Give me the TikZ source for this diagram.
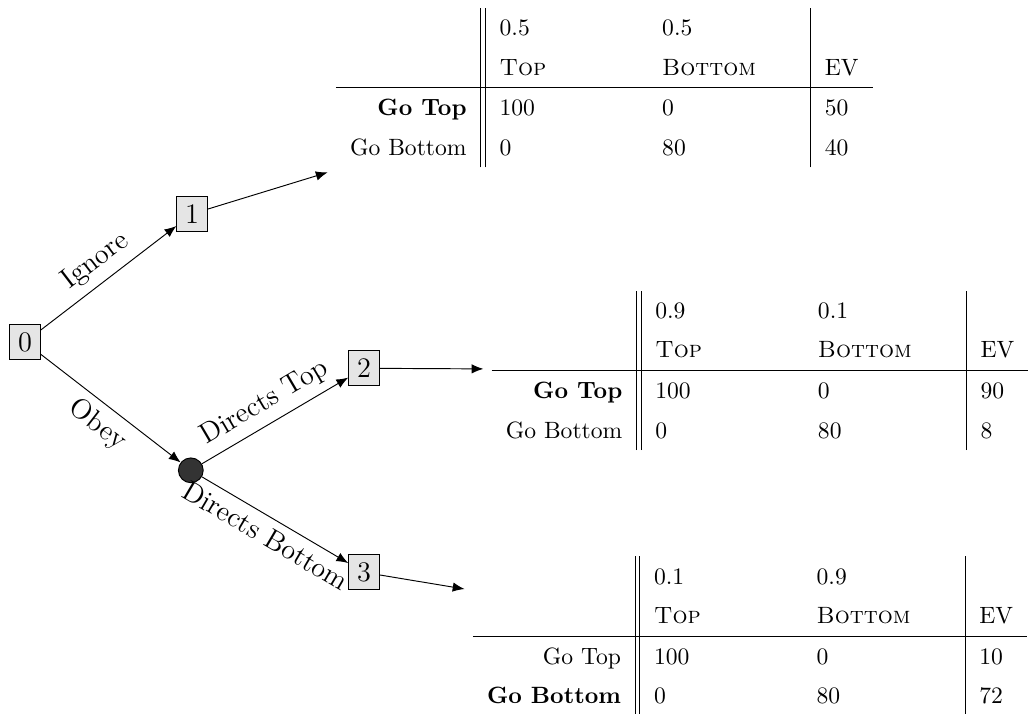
\documentclass[tikz,border=0pt]{standalone}
\usepackage{tikz}
\usetikzlibrary{arrows.meta}
\renewcommand{\arraystretch}{1.4}
\tikzset{
  decision/.style={draw, fill=gray!20, font=\large, minimum width=13pt, minimum height=14.8pt, inner sep=1.5pt},
  chance/.style={circle, draw, fill=black!80, minimum size=10.5pt, inner sep=0pt},
  branch/.style={-{Latex[length=5pt, width=4pt]}},
  choice/.style={sloped, font=\large},
}
\begin{document}
\begin{tikzpicture}
                \useasboundingbox (-0.3725, -5.53) rectangle (15.06, 5.096);
                \node[decision] (d0) at (0, 0) {0};
                \node[decision] (d1) at (2.49, 1.91) {1};
                \node[chance] (ch) at (2.47, -1.91) {};
                \node[decision] (d2) at (5.05, -0.39) {2};
                \node[decision] (d3) at (5.05, -3.43) {3};

                \node (t1) at (8.63, 3.79) {\begin{tabular}{r||p{2cm}p{2cm}|l}
                    & 0.5 & 0.5 & \\
                    & \textsc{Top} & \textsc{Bottom} & EV \\ \hline
                    \textbf{Go Top} & 100 & 0 & 50 \\
                    Go Bottom & 0 & 80 & 40
                \end{tabular}};
                \node (t2) at (10.95, -0.42) {\begin{tabular}{r||p{2cm}p{2cm}|l}
                    & 0.9 & 0.1 & \\
                    & \textsc{Top} & \textsc{Bottom} & EV \\ \hline
                    \textbf{Go Top} & 100 & 0 & 90 \\
                    Go Bottom & 0 & 80 & 8
                \end{tabular}};
                \node (t3) at (10.8, -4.38) {\begin{tabular}{r||p{2cm}p{2cm}|l}
                    & 0.1 & 0.9 & \\
                    & \textsc{Top} & \textsc{Bottom} & EV \\ \hline
                    Go Top & 100 & 0 & 10 \\
                    \textbf{Go Bottom} & 0 & 80 & 72
                \end{tabular}};

                \draw[branch] (d0) -- node[choice, above] {Ignore} (d1);
                \draw[branch] (d0) -- node[choice, below] {Obey} (ch);
                \draw[branch] (ch) -- node[choice, above] {Directs Top} (d2);
                \draw[branch] (ch) -- node[choice, below] {Directs Bottom} (d3);
                \draw[branch] (d1) -- (t1);
                \draw[branch] (d2) -- (t2);
                \draw[branch] (d3) -- (t3);
            \end{tikzpicture}
\end{document}
